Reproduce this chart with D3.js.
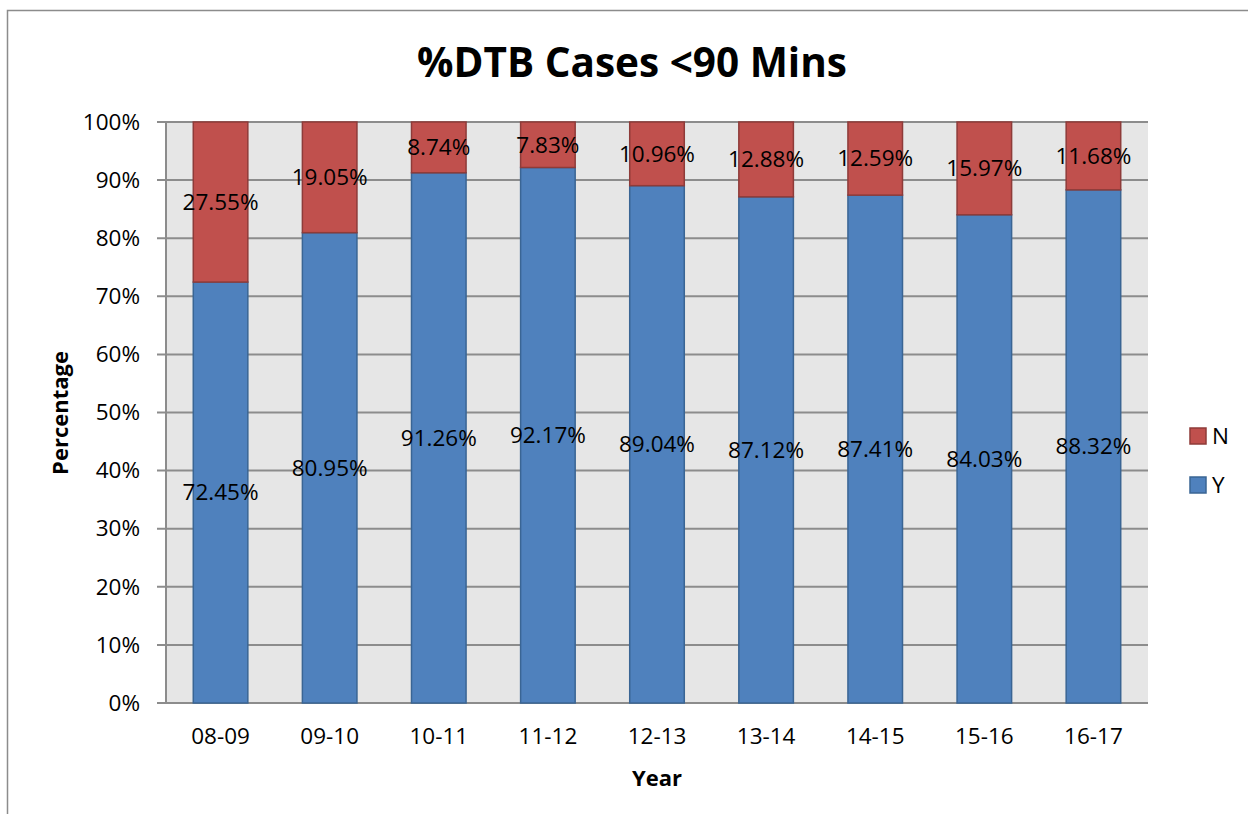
<!DOCTYPE html>
<html>
<head>
<meta charset="utf-8">
<script src="https://cdn.jsdelivr.net/npm/d3@7"></script>
<style>
  body { margin: 0; background: #fff; }
  text { font-family: "Open Sans", "DejaVu Sans", sans-serif; }
</style>
</head>
<body>
<svg id="chart" width="1248" height="814"></svg>
<script>
// datos del grafico
const years = ["08-09", "09-10", "10-11", "11-12", "12-13", "13-14", "14-15", "15-16", "16-17"];
const yValues = [72.45, 80.95, 91.26, 92.17, 89.04, 87.12, 87.41, 84.03, 88.32];
const nValues = [27.55, 19.05, 8.74, 7.83, 10.96, 12.88, 12.59, 15.97, 11.68];
const yTicks = [0, 10, 20, 30, 40, 50, 60, 70, 80, 90, 100];
const seriesNames = ["N", "Y"];

const svg = d3.select("#chart");

const plotLeft = 166, plotRight = 1148, plotTop = 122, plotBottom = 703;
const fs = 22.5;

// marco exterior
svg.append("rect")
    .attr("x", 7.5).attr("y", 10.5)
    .attr("width", 1260).attr("height", 830)
    .attr("fill", "none")
    .attr("stroke", "#8c8c8c")
    .attr("stroke-width", 1.5);

const x = d3.scaleBand().domain(years).range([plotLeft, plotRight]).paddingInner(0.5).paddingOuter(0.25);
const y = d3.scaleLinear().domain([0, 100]).range([plotBottom, plotTop]);

// fondo del area
svg.append("rect")
    .attr("x", plotLeft).attr("y", plotTop)
    .attr("width", plotRight - plotLeft).attr("height", plotBottom - plotTop)
    .attr("fill", "#e6e6e6");

// lineas de cuadricula
svg.append("g").selectAll("line")
    .data(yTicks)
    .join("line")
    .attr("x1", plotLeft - 9).attr("x2", plotRight)
    .attr("y1", d => y(d)).attr("y2", d => y(d))
    .attr("stroke", "#8c8c8c").attr("stroke-width", 2);

// eje y
svg.append("line")
    .attr("x1", plotLeft).attr("x2", plotLeft)
    .attr("y1", plotTop).attr("y2", plotBottom)
    .attr("stroke", "#8c8c8c").attr("stroke-width", 2);

const axisY = d3.axisLeft(y).tickValues(yTicks).tickFormat(d => d + "%").tickSize(0).tickPadding(26);
const gy = svg.append("g").attr("transform", `translate(${plotLeft},0)`).call(axisY);
gy.select(".domain").remove();
gy.selectAll("text").attr("font-size", fs).attr("fill", "#000")
    .attr("font-family", "Open Sans, sans-serif");

const axisX = d3.axisBottom(x).tickSize(0).tickPadding(25);
const gx = svg.append("g").attr("transform", `translate(0,${plotBottom})`).call(axisX);
gx.select(".domain").remove();
gx.selectAll("text").attr("font-size", fs).attr("fill", "#000")
    .attr("font-family", "Open Sans, sans-serif");

// barras
const bw = x.bandwidth();
svg.append("g").selectAll("rect")
    .data(years)
    .join("rect")
    .attr("x", d => x(d)).attr("width", bw)
    .attr("y", (d, i) => y(yValues[i]))
    .attr("height", (d, i) => y(0) - y(yValues[i]))
    .attr("fill", "#4f81bd").attr("stroke", "#3a6594").attr("stroke-width", 1.5);

svg.append("g").selectAll("rect")
    .data(years)
    .join("rect")
    .attr("x", d => x(d)).attr("width", bw)
    .attr("y", (d, i) => y(yValues[i] + nValues[i]))
    .attr("height", (d, i) => y(yValues[i]) - y(yValues[i] + nValues[i]))
    .attr("fill", "#c0504d").attr("stroke", "#8e3b39").attr("stroke-width", 1.5);

// etiquetas
svg.append("g").selectAll("text")
    .data(years)
    .join("text")
    .attr("x", d => x(d) + bw / 2)
    .attr("y", (d, i) => y(yValues[i] / 2))
    .attr("text-anchor", "middle").attr("dy", "0.35em")
    .attr("font-size", fs).attr("fill", "#000")
    .text((d, i) => yValues[i].toFixed(2) + "%");

svg.append("g").selectAll("text")
    .data(years)
    .join("text")
    .attr("x", d => x(d) + bw / 2)
    .attr("y", (d, i) => y(yValues[i] + nValues[i] / 2))
    .attr("text-anchor", "middle").attr("dy", "0.35em")
    .attr("font-size", fs).attr("fill", "#000")
    .text((d, i) => nValues[i].toFixed(2) + "%");

// titulo
svg.append("text")
    .attr("x", 632).attr("y", 77)
    .attr("text-anchor", "middle")
    .attr("font-size", 40.5).attr("font-weight", "bold")
    .text("%DTB Cases <90 Mins");

svg.append("text")
    .attr("transform", "translate(68,413) rotate(-90)")
    .attr("text-anchor", "middle")
    .attr("font-size", 22).attr("font-weight", "bold")
    .text("Percentage");

svg.append("text")
    .attr("x", 657).attr("y", 786)
    .attr("text-anchor", "middle")
    .attr("font-size", 22).attr("font-weight", "bold")
    .text("Year");

// leyenda
const legendColors = { N: ["#c0504d", "#8e3b39"], Y: ["#4f81bd", "#3a6594"] };
const lg = svg.append("g").selectAll("g")
    .data(seriesNames)
    .join("g")
    .attr("transform", (d, i) => `translate(1190,${428 + i * 49})`);
lg.append("rect")
    .attr("width", 16).attr("height", 16)
    .attr("fill", d => legendColors[d][0]).attr("stroke", d => legendColors[d][1]).attr("stroke-width", 1.5);
lg.append("text")
    .attr("x", 22).attr("y", 8).attr("dy", "0.35em")
    .attr("font-size", fs)
    .text(d => d);
</script>
</body>
</html>
